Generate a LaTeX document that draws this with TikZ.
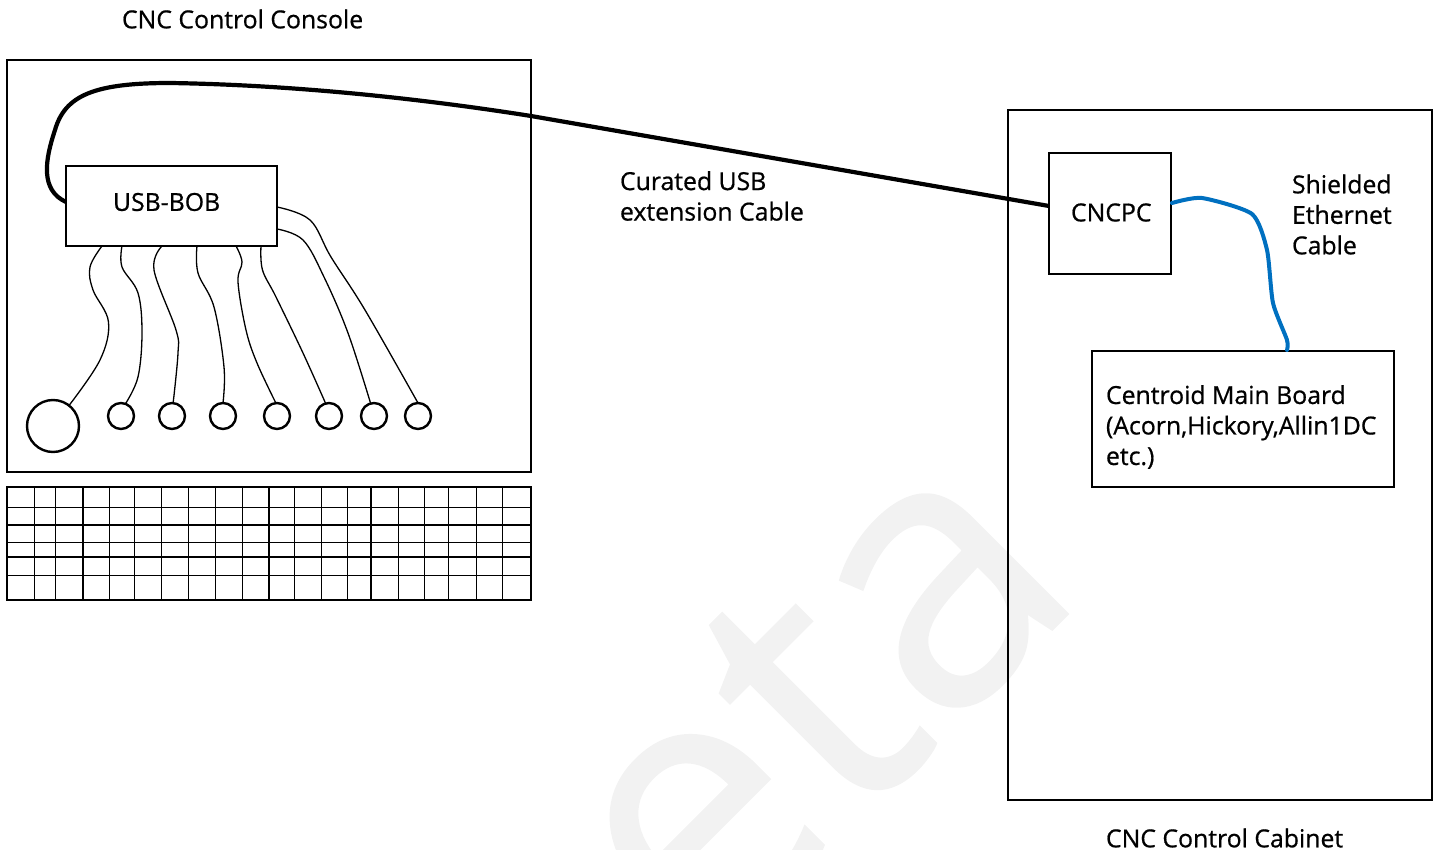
\documentclass[tikz,border=0pt]{standalone}
\usepackage{fontspec}
\setmainfont{Open Sans}
\newfontfamily\labelfont{Open Sans}[FakeBold=0.7]
\newfontfamily\markfont{Open Sans}[FakeBold=0.5]
\definecolor{markgray}{HTML}{F2F2F2}
\definecolor{ethblue}{HTML}{0070C0}
\tikzset{
  boxnode/.style={draw,line width=1.4pt,inner sep=0pt,outer sep=0pt},
  labelnode/.style={anchor=west,inner sep=0pt,outer sep=0pt,align=left,font=\labelfont\fontsize{12.4}{15.25}\selectfont},
  portnode/.style={circle,draw,line width=1.2pt,inner sep=0pt,outer sep=0pt,minimum size=13pt},
  wire/.style={line width=.65pt},
  usbcable/.style={line width=2.1pt},
  ethcable/.style={line width=2pt,color=ethblue,line cap=round}
}
\begin{document}
\begin{tikzpicture}[x=.5pt,y=-.5pt]
    \useasboundingbox (0,0) rectangle (1437,850);
    \begin{scope}
      \clip (0,0) rectangle (1437,850);
      \node[anchor=base,rotate=45,text=markgray,inner sep=0pt,font=\markfont\fontsize{186}{186}\selectfont] (mark) at (896,786) {eta};
    \end{scope}

    \node[boxnode,minimum width=262pt,minimum height=206pt] (console) at (269,266) {};
    \node[boxnode,minimum width=105.5pt,minimum height=40pt] (bob) at (171.5,206) {};
    \node[boxnode,minimum width=262pt,minimum height=56.5pt] (keys) at (269,543.5) {};
    \node[boxnode,minimum width=212pt,minimum height=345pt] (cabinet) at (1220,455) {};
    \node[boxnode,minimum width=61pt,minimum height=60.5pt] (cncpc) at (1110,213.5) {};
    \node[boxnode,minimum width=151pt,minimum height=68pt] (board) at (1243,419) {};

    \foreach \x in {34.4,55.8,83,109.2,134.7,161.6,188.1,215.6,242.9,269,294.2,321.7,347.2,371,398.5,424.4,448.9,476.4,502.6} {
      \draw[line width=.55pt] (\x,487) -- (\x,600);
    }
    \foreach \y in {507.7,525,542.3,557,575.3} {
      \draw[line width=.55pt] (7,\y) -- (531,\y);
    }

    \node[labelnode] (consolelabel) at (122,19) {CNC Control Console};
    \node[labelnode] (boblabel) at (113,202) {USB-BOB};
    \node[labelnode] (usblabel) at (620,196) {Curated USB\\extension Cable};
    \node[labelnode] (cncpclabel) at (1071,212.5) {CNCPC};
    \node[labelnode] (ethlabel) at (1292,214.5) {Shielded\\Ethernet\\Cable};
    \node[labelnode] (boardlabel) at (1106,427) {Centroid Main Board\\(Acorn,Hickory,Allin1DC\\etc.)};
    \node[labelnode] (cabinetlabel) at (1106,838) {CNC Control Cabinet};

    \node[portnode,minimum size=26pt] (p0) at (53,426) {};
    \foreach \i/\x in {1/121,2/172,3/223,4/277,5/329,6/374,7/418} {
      \node[portnode] (p\i) at (\x,416) {};
    }

    \draw[wire] plot[smooth,tension=.6] coordinates {(102,246) (90,267) (93,290) (108.5,322) (100,360) (p0.52)};
    \draw[wire] plot[smooth,tension=.6] coordinates {(122,246) (122,267) (138,293) (142,333) (138,377) (p1.70)};
    \draw[wire] plot[smooth,tension=.6] coordinates {(162,246) (154,270) (176,330) (178,353) (p2.85)};
    \draw[wire] plot[smooth,tension=.6] coordinates {(197,246) (198,273) (214,307) (224,367) (p3.90)};
    \draw[wire] plot[smooth,tension=.6] coordinates {(236,246) (242,262) (238,282) (246,330) (257,363) (p4.95)};
    \draw[wire] plot[smooth,tension=.6] coordinates {(261,246) (262.5,270) (276,297) (303,353) (p5.105)};
    \draw[wire] plot[smooth,tension=.6] coordinates {(277,229) (303,240) (324,277) (348,333) (p6.105)};
    \draw[wire] plot[smooth,tension=.6] coordinates {(277,207) (310,220) (331,257) (365,310) (p7.90)};

    \draw[usbcable] (66,202) .. controls (40,190) and (45,160) .. (55,130) .. controls (65,95) and (95,83) .. (170,83) .. controls (300,85) and (430,100) .. (531,116) -- (cncpc.west |- 0,206);
    \draw[ethcable] plot[smooth,tension=.4] coordinates {(1172,203) (1202,198) (1252,214) (1267,250) (1273,303) (1287,340) (1287,350)};
  \end{tikzpicture}
\end{document}
